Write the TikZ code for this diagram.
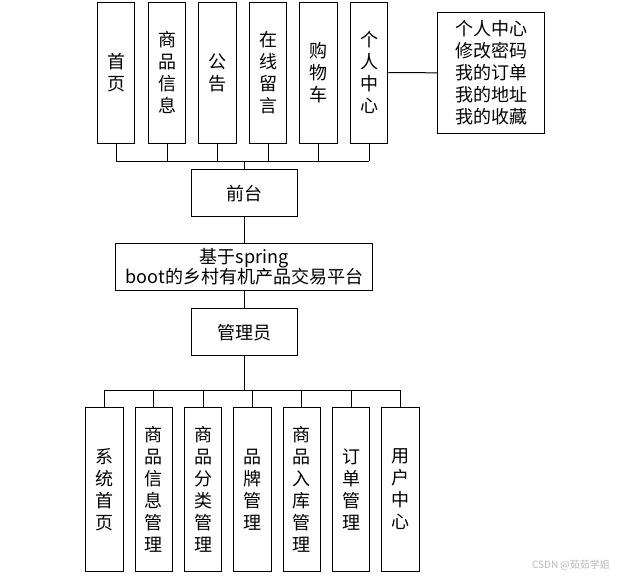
\documentclass[tikz,border=0pt]{standalone}
\usepackage{fontspec}
\setmainfont{Noto Sans CJK SC}

\tikzset{
  box/.style={draw, line width=1pt, inner sep=0pt, align=center, font=\fontsize{18}{22}\selectfont},
  tallbox/.style={box, minimum width=37.5pt, minimum height=141pt},
  lowbox/.style={box, minimum width=37.5pt, minimum height=164.5pt},
  midbox/.style={box, minimum width=106pt, minimum height=47pt},
  link/.style={line width=1pt}
}

\begin{document}
\begin{tikzpicture}[x=1pt,y=-1pt]
\useasboundingbox (0,0) rectangle (636,576);
% front end
\node[tallbox] (shouye) at (116,72.7) {首\\页};
\node[tallbox] (spxx) at (167,72.7) {商\\品\\信\\息};
\node[tallbox] (gonggao) at (217.3,72.7) {公\\告};
\node[tallbox] (zxly) at (268,72.7) {在\\线\\留\\言};
\node[tallbox] (gwc) at (318.7,72.7) {购\\物\\车};
\node[tallbox] (grzx) at (369,72.7) {个\\人\\中\\心};
\node[box, minimum width=106.3pt, minimum height=121pt] (grmenu) at (491,72.8) {个人中心\\修改密码\\我的订单\\我的地址\\我的收藏};
\coordinate (topbus) at (244.8,161);
% centre column
\node[midbox] (qiantai) at (244.3,193.3) {前台};
\node[box, minimum width=256.7pt, minimum height=47.4pt, font=\fontsize{18}{20}\selectfont] (pingtai) at (244.3,267) {基于spring\\boot的乡村有机产品交易平台};
\node[midbox] (gly) at (244.3,332.3) {管理员};
\coordinate (lowbus) at (244.3,390);
% admin
\node[lowbox] (xtsy) at (104.5,489.5) {系\\统\\首\\页};
\node[lowbox] (spgl) at (153.8,489.5) {商\\品\\信\\息\\管\\理};
\node[lowbox] (flgl) at (203.2,489.5) {商\\品\\分\\类\\管\\理};
\node[lowbox] (ppgl) at (252.5,489.5) {品\\牌\\管\\理};
\node[lowbox] (rkgl) at (301.8,489.5) {商\\品\\入\\库\\管\\理};
\node[lowbox] (ddgl) at (351.2,489.5) {订\\单\\管\\理};
\node[lowbox] (yhzx) at (400.5,489.5) {用\\户\\中\\心};

\foreach \n in {shouye,spxx,gonggao,zxly,gwc,grzx}
  \draw[link] (\n.south) -- (\n.south |- topbus);
\draw[link] (shouye.south |- topbus) -- (grzx.south |- topbus);
\draw[link] (topbus) -- (topbus |- qiantai.north);
\draw[link] (grzx) -- (grmenu);
\draw[link] (qiantai) -- (pingtai);
\draw[link] (pingtai) -- (gly);
\draw[link] (gly) -- (lowbus);
\foreach \n in {xtsy,spgl,flgl,ppgl,rkgl,ddgl,yhzx}
  \draw[link] (\n.north) -- (\n.north |- lowbus);
\draw[link] (xtsy.north |- lowbus) -- (yhzx.north |- lowbus);

\node[text=gray!55, font=\fontsize{10}{12}\selectfont] (csdn) at (571,565) {CSDN @茹茹学姐};
\end{tikzpicture}
\end{document}
